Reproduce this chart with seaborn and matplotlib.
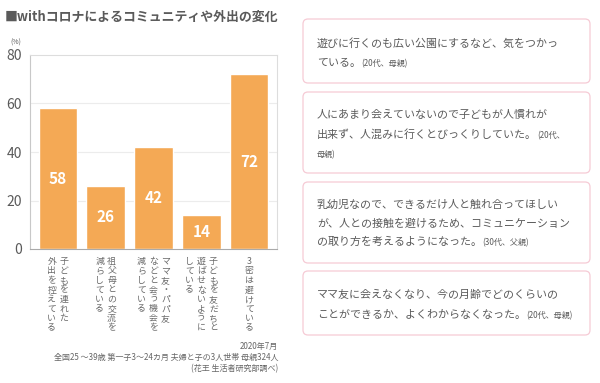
import matplotlib
matplotlib.use("Agg")
import matplotlib.pyplot as plt
import pandas as pd
import seaborn as sns
from matplotlib.patches import FancyBboxPatch

# データ
categories = [
    ["子どもを連れた", "外出を控えている"],
    ["祖父母との交流を", "減らしている"],
    ["ママ友・パパ友", "などと会う機会を", "減らしている"],
    ["子どもを友だちと", "遊ばせないように", "している"],
    ["3密は避けている"],
]
values = [58, 26, 42, 14, 72]
yticks = [0, 20, 40, 60, 80]

title = "■withコロナによるコミュニティや外出の変化"
notes = [
    "2020年7月",
    "全国25 ～39歳 第一子3～24カ月 夫婦と子の3人世帯 母親324人",
    "(花王 生活者研究部調べ)",
]

# 右側のコメント (本文の行, 最終行の小さい注記)
comments = [
    (["遊びに行くのも広い公園にするなど、気をつかっ", "ている。"], ["(20代、母親)"]),
    (["人にあまり会えていないので子どもが人慣れが", "出来ず、人混みに行くとびっくりしていた。"], ["(20代、", "母親)"]),
    (["乳幼児なので、できるだけ人と触れ合ってほしい", "が、人との接触を避けるため、コミュニケーション",
      "の取り方を考えるようになった。"], ["(30代、父親)"]),
    (["ママ友に会えなくなり、今の月齢でどのくらいの", "ことができるか、よくわからなくなった。"], ["(20代、母親)"]),
]

BAR_COLOR = "#F4A955"
TEXT_COLOR = "#5a5a5a"
BOX_EDGE = "#f6cbd5"

sns.set_theme(style="white")
plt.rcParams["font.family"] = ["Noto Sans CJK JP", "DejaVu Sans"]

fig = plt.figure(figsize=(6, 3.83), dpi=100)
W, H = 600, 383

# 棒グラフ
ax = fig.add_axes([30 / W, 1 - 249 / H, 247 / W, 194 / H])
df = pd.DataFrame({"label": ["".join(c) for c in categories], "value": values})
sns.barplot(data=df, x="label", y="value", color=BAR_COLOR, saturation=1,
            width=0.8, ax=ax, zorder=2)
ax.set_xlim(-0.58, 4.58)
ax.set_ylim(0, 80)
ax.set_yticks(yticks)
ax.set_yticklabels([str(t) for t in yticks], fontsize=10, color=TEXT_COLOR)
ax.tick_params(axis="y", length=0, pad=6)
ax.set_xticks([])
ax.set_xlabel("")
ax.set_ylabel("")
for t in yticks[1:-1]:
    ax.axhline(t, color="#ececec", lw=0.8, zorder=1)
for s in ["top", "right"]:
    ax.spines[s].set_color("#dddddd")
ax.spines["left"].set_color("#c8c8c8")
ax.spines["bottom"].set_color("#aaaaaa")
for s in ax.spines.values():
    s.set_linewidth(0.8)

for i, v in enumerate(values):
    ax.text(i, v / 2, str(v), ha="center", va="center", color="white",
            fontsize=11, fontweight="bold", zorder=3)

# 縦書きラベル (右の列から)
px = 0.72
col_gap = 12
char_pitch = 9.5
for i, cols in enumerate(categories):
    n = len(cols)
    for j, col in enumerate(cols):
        dx = ((n - 1) / 2 - j) * col_gap
        for k, ch in enumerate(col):
            ax.annotate(ch, xy=(i, 0), xycoords=ax.get_xaxis_transform(),
                        xytext=(dx * px, -(8 + k * char_pitch) * px),
                        textcoords="offset points", ha="center", va="top",
                        fontsize=6.4, color="#6a6a6a", annotation_clip=False)

# オーバーレイ (ピクセル座標)
ov = fig.add_axes([0, 0, 1, 1], zorder=-1)
ov.set_xlim(0, W)
ov.set_ylim(H, 0)
ov.axis("off")

ov.text(5, 17, title, fontsize=9.3, fontweight="bold", color=TEXT_COLOR,
        va="center", ha="left")
ov.text(16, 43, "(%)", fontsize=5, color=TEXT_COLOR, ha="center", va="center")

for k, line in enumerate(notes):
    ov.text(278, 346 + k * 11.5, line, fontsize=5.8, color="#666666",
            ha="right", va="center")

boxes = [(19, 83), (92, 173), (182, 263), (271, 335)]
line_y = [[43, 63], [115, 135, 155], [205, 224, 242], [295, 315]]
for (y0, y1), ys, (lines, small) in zip(boxes, line_y, comments):
    ov.add_patch(FancyBboxPatch((303, y0), 287, y1 - y0,
                                boxstyle="round,pad=0,rounding_size=5",
                                fc="white", ec=BOX_EDGE, lw=0.9))
    texts = []
    for y, line in zip(ys, lines):
        texts.append(ov.text(317, y, line, fontsize=7.9, color=TEXT_COLOR,
                             ha="left", va="center"))
    # 小さい注記は最終行の後ろに続ける
    fig.canvas.draw()
    r = fig.canvas.get_renderer()
    last = texts[-1].get_window_extent(renderer=r)
    ov.text(last.x1 + 0.5, ys[len(lines) - 1] + 1, small[0], fontsize=5.8,
            color=TEXT_COLOR, ha="left", va="center")
    for extra, y in zip(small[1:], ys[len(lines):]):
        ov.text(317, y, extra, fontsize=5.8, color=TEXT_COLOR,
                ha="left", va="center")

fig.savefig("out.png", dpi=100, facecolor="white")
